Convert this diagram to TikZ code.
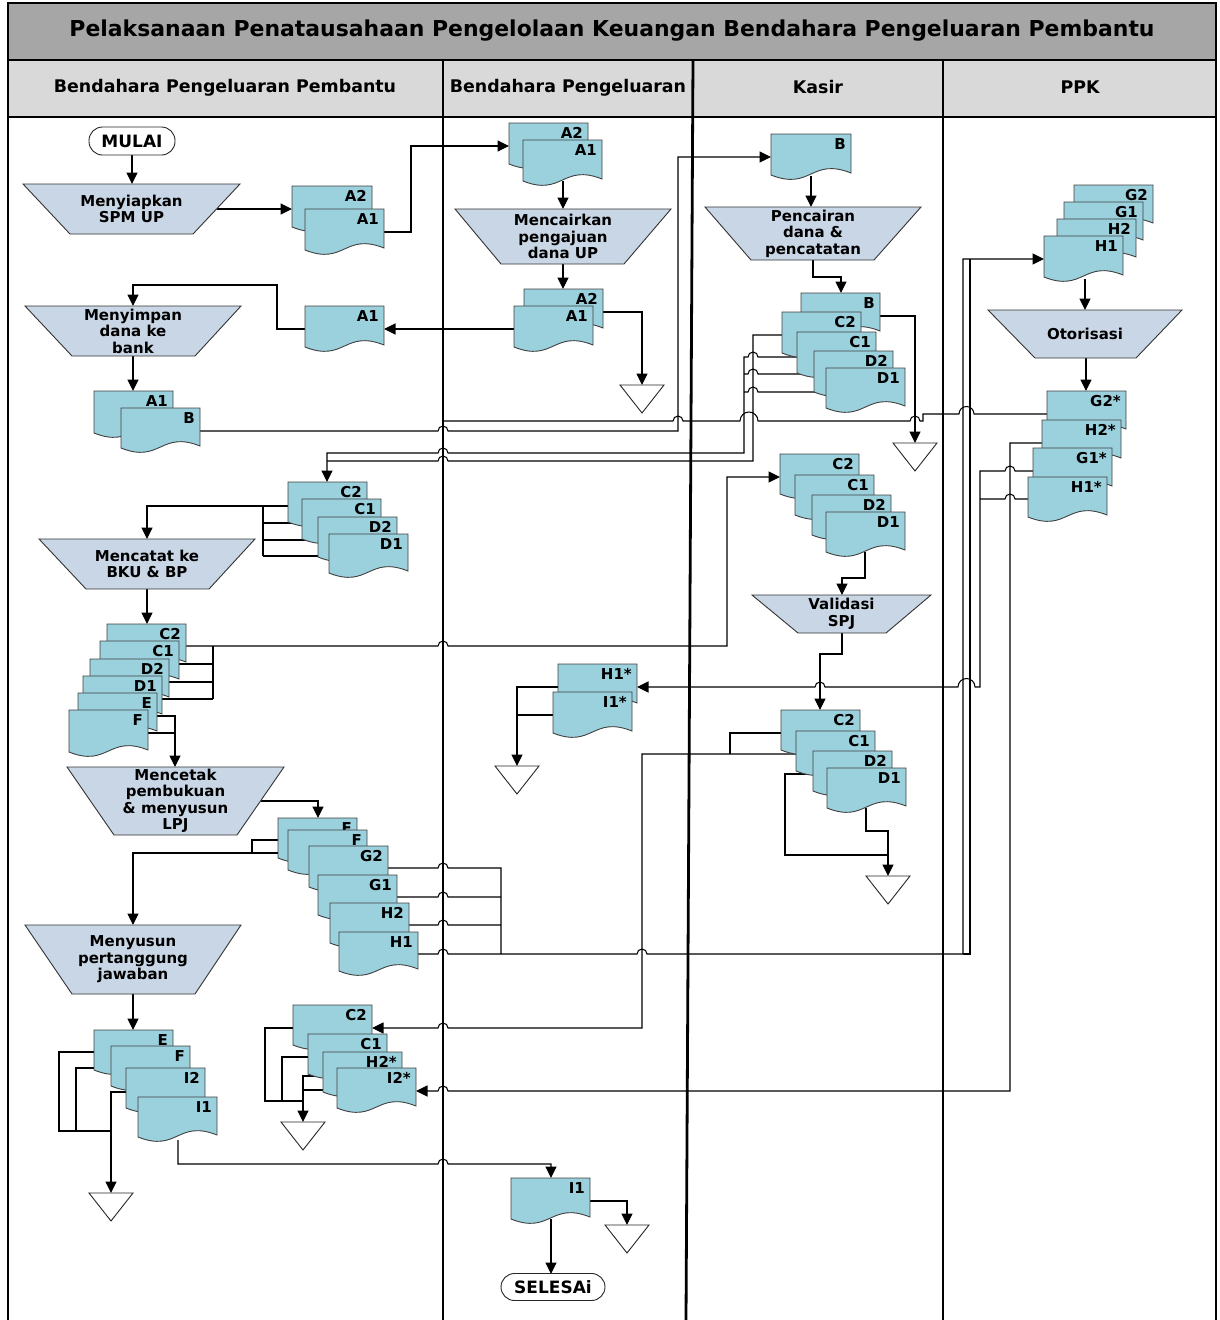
\documentclass[tikz,border=0pt]{standalone}
\usepackage{fontspec}
\usepackage{graphicx}
\setmainfont{DejaVu Sans}
\usetikzlibrary{arrows.meta}
\definecolor{docblue}{RGB}{155,208,221}
\definecolor{trapblue}{RGB}{201,214,229}
\definecolor{titlegray}{RGB}{166,166,166}
\definecolor{headgray}{RGB}{217,217,217}
\tikzset{
  cn/.style={draw=black, line width=1.05pt},
  ar/.style={cn, -{Triangle[length=11.5pt,width=11pt]}},
  docst/.style={fill=docblue, draw=black!75, line width=0.9pt},
  trapst/.style={fill=trapblue, draw=black!80, line width=0.9pt},
  txt/.style={font=\bfseries\fontsize{15}{16.5}\selectfont, align=center, inner sep=0pt},
  lbl/.style={font=\bfseries\fontsize{15}{15}\selectfont, inner sep=0pt, anchor=north east},
  term/.style={draw=black!85, fill=white, line width=0.9pt, rounded corners=13.5pt, font=\bfseries\fontsize{17}{17}\selectfont, inner sep=0pt},
  lane/.style={line width=2.8pt, black},
  offst/.style={fill=white, draw=black!85, line width=0.9pt},
  hdr/.style={font=\bfseries\fontsize{17.4}{17.4}\selectfont}
}
\newcommand{\docu}[6]{%
  \begin{scope}[shift={(#1,#2)}]
    \filldraw[docst] (0,0) -- (#3,0) -- (#3,{#4-2}) .. controls ({0.5*#3},{#4-2-0.2*#3}) and ({0.5*#3},{#4+0.2*#3}) .. (0,#4) -- cycle;
    \node[lbl] (#6) at ({#3-5},4) {#5};
  \end{scope}}
\newcommand{\trapz}[8]{%
  \filldraw[trapst] (#1,#3) -- (#2,#3) -- (#5,#6) -- (#4,#6) -- cycle;
  \node[txt] (#8) at ({(#1+#2)/2},{(#3+#6)/2}) {#7};}
\newcommand{\offp}[3]{%
  \filldraw[offst] ({#1-22},#2) -- ({#1+22},#2) -- (#1,{#2+28}) -- cycle;
  \coordinate (#3) at (#1,#2);}
\begin{document}
\begin{tikzpicture}[x=1pt,y=-1pt]
\useasboundingbox (0,0) rectangle (1220,1320);
% bands
\fill[titlegray] (8,3) rectangle (1216,60);
\fill[headgray] (8,60) rectangle (1216,117);
\node (title) at (612,31) {\resizebox{1085pt}{!}{\bfseries\fontsize{20}{20}\selectfont Pelaksanaan Penatausahaan Pengelolaan Keuangan Bendahara Pengeluaran Pembantu}};
\node[hdr] (h1) at (225,88) {Bendahara Pengeluaran Pembantu};
\node[hdr] (h2) at (568,88) {Bendahara Pengeluaran};
\node[hdr] (h3) at (818,87) {Kasir};
\node[hdr] (h4) at (1080,87) {PPK};
% frame and lanes
\draw[lane] (8,1320) -- (8,3) -- (1216,3) -- (1216,1320);
\draw[lane] (8,60) -- (1216,60);
\draw[lane] (8,117) -- (1216,117);
\draw[lane] (443,60) -- (443,1320);
\draw[lane] (693,60) -- (686,1320);
\draw[lane] (943,60) -- (943,1320);

% ---------------- connectors ----------------
\draw[ar] (132,155) -- (132,184);
\draw[ar] (216.5,209) -- (292,209);
\draw[ar] (384,232) -- (411,232) -- (411,146) -- (509,146);
\draw[ar] (563,181) -- (563,209);
\draw[ar] (563,264) -- (563,289);
\draw[ar] (603,312) -- (642,312) -- (642,385);
\draw[ar] (514,329) -- (384,329);
\draw[ar] (305,329) -- (277,329) -- (277,285) -- (133,285) -- (133,306);
\draw[ar] (133,356) -- (133,391);
\draw[ar] (200,431) -- (438,431) arc[start angle=180,end angle=360,radius=5] -- (678,431) -- (678,157) -- (771,157);
\draw[ar] (811,176) -- (811,207);
\draw[ar] (813,260) -- (813,277) -- (841,277) -- (841,293);
\draw[ar] (880,316) -- (915,316) -- (915,443);
% G2* line
\draw[cn] (1047,414) -- (974,414) arc[start angle=0,end angle=-180,radius=7.5] -- (923,414) -- (923,421) -- (920,421) arc[start angle=0,end angle=-180,radius=5] -- (758,421) arc[start angle=0,end angle=-180,radius=9] -- (683,421) arc[start angle=0,end angle=-180,radius=5] -- (443,421);
% Kasir C/D to lane 1
\draw[cn] (782,335) -- (753,335) -- (753,461) -- (448,461) arc[start angle=0,end angle=-180,radius=5] -- (327,461);
\draw[ar] (797,357) -- (758,357) arc[start angle=0,end angle=-180,radius=5] -- (744,357) -- (744,453) -- (448,453) arc[start angle=0,end angle=-180,radius=5] -- (327,453) -- (327,482);
\draw[cn] (814,374) -- (758,374) arc[start angle=0,end angle=-180,radius=5] -- (744,374);
\draw[cn] (826,392) -- (758,392) arc[start angle=0,end angle=-180,radius=5] -- (744,392);
% lane 1 C2 stack
\draw[ar] (288,506) -- (147,506) -- (147,539);
\draw[cn] (263,506) -- (263,556);
\draw[cn] (302,523) -- (263,523);
\draw[cn] (318,540) -- (263,540);
\draw[cn] (329,556) -- (263,556);
\draw[ar] (147,589) -- (147,624);
\draw[ar] (186,646) -- (438,646) arc[start angle=180,end angle=360,radius=5] -- (727,646) -- (727,477) -- (780,477);
\draw[cn] (213,646) -- (213,699);
\draw[cn] (179,664) -- (213,664);
\draw[cn] (169,682) -- (213,682);
\draw[cn] (162,699) -- (213,699);
\draw[ar] (157,716) -- (175,716) -- (175,767);
\draw[cn] (148,733) -- (175,733);
\draw[ar] (260.5,801) -- (318,801) -- (318,818);
\draw[cn] (278,840) -- (252,840) -- (252,853);
\draw[ar] (288,853) -- (133,853) -- (133,925);
\draw[cn] (388,868) -- (438,868) arc[start angle=180,end angle=360,radius=5] -- (501,868) -- (501,954);
\draw[cn] (397,897) -- (438,897) arc[start angle=180,end angle=360,radius=5] -- (501,897);
\draw[cn] (409,925) -- (438,925) arc[start angle=180,end angle=360,radius=5] -- (501,925);
\draw[ar] (418,954) -- (438,954) arc[start angle=180,end angle=360,radius=5] -- (637,954) arc[start angle=180,end angle=360,radius=5] -- (963,954) -- (963,259) -- (1044,259);
\draw[cn] (963,954) -- (970,954) -- (970,259);
\draw[ar] (133,994) -- (133,1030);
\draw[cn] (94,1052) -- (59,1052) -- (59,1131) -- (111,1131);
\draw[cn] (111,1068) -- (76,1068) -- (76,1131);
\draw[ar] (126,1092) -- (111,1092) -- (111,1193);
\draw[ar] (178,1140) -- (178,1164) -- (438,1164) arc[start angle=180,end angle=360,radius=5] -- (551,1164) -- (551,1178);
\draw[cn] (293,1028) -- (265,1028) -- (265,1101) -- (303,1101);
\draw[cn] (308,1057) -- (282,1057) -- (282,1101);
\draw[ar] (323,1076) -- (303,1076) -- (303,1122);
\draw[cn] (337,1090) -- (303,1090);
% Kasir bottom to lane 1
\draw[cn] (781,733) -- (730,733) -- (730,754);
\draw[ar] (796,754) -- (642,754) -- (642,1028) -- (448,1028) arc[start angle=0,end angle=-180,radius=5] -- (372,1028);
% PPK starred docs
\draw[ar] (1042,443) -- (1010,443) -- (1010,1091) -- (448,1091) arc[start angle=0,end angle=-180,radius=5] -- (416,1091);
\draw[ar] (1033,471) -- (1015,471) arc[start angle=0,end angle=-180,radius=5] -- (980,471) -- (980,687) -- (975,687) arc[start angle=0,end angle=-180,radius=8.5] -- (825,687) arc[start angle=0,end angle=-180,radius=5] -- (637,687);
\draw[cn] (1028,499) -- (1015,499) arc[start angle=0,end angle=-180,radius=5] -- (980,499);
% Kasir middle
\draw[ar] (865,552) -- (865,578) -- (842,578) -- (842,595);
\draw[ar] (842,633) -- (842,654) -- (820,654) -- (820,710);
\draw[cn] (813,774) -- (785,774) -- (785,855) -- (888,855);
\draw[ar] (866,808) -- (866,831) -- (888,831) -- (888,876);
% PPK
\draw[ar] (1085,279) -- (1085,310);
\draw[ar] (1086,358) -- (1086,391);
% lane 2 lower
\draw[ar] (558,687) -- (517,687) -- (517,766);
\draw[cn] (553,715) -- (517,715);
\draw[ar] (590,1201) -- (627,1201) -- (627,1225);
\draw[ar] (551,1219) -- (551,1274);

% ---------------- terminals ----------------
\node[term, minimum width=86pt, minimum height=28pt] (mulai) at (132,141) {MULAI};
\node[term, minimum width=104pt, minimum height=27pt] (selesai) at (553,1287) {SELESAi};

% ---------------- trapezoids ----------------
\trapz{23}{240}{184}{70}{193}{234}{Menyiapkan\\SPM UP}{t1}
\trapz{455}{671}{209}{501}{624}{264}{Mencairkan\\pengajuan\\dana UP}{t2}
\trapz{25}{241}{306}{72}{195}{356}{Menyimpan\\dana ke\\bank}{t3}
\trapz{705}{921}{207}{751}{874}{260}{Pencairan\\dana \&\\pencatatan}{t4}
\trapz{39}{255}{539}{86}{209}{589}{Mencatat ke\\BKU \& BP}{t5}
\trapz{67}{284}{767}{114}{237}{835}{Mencetak\\pembukuan\\\& menyusun\\LPJ}{t6}
\trapz{25}{241}{925}{72}{195}{994}{Menyusun\\pertanggung\\jawaban}{t7}
\trapz{752}{931}{595}{798}{886}{633}{Validasi\\SPJ}{t8}
\trapz{988}{1182}{310}{1035}{1136}{358}{Otorisasi}{t9}

% ---------------- off-page triangles ----------------
\offp{642}{385}{o1}
\offp{915}{443}{o2}
\offp{517}{766}{o3}
\offp{888}{876}{o4}
\offp{111}{1193}{o5}
\offp{303}{1122}{o6}
\offp{627}{1225}{o7}

% ---------------- documents ----------------
% lane 1
\docu{292}{186}{80}{41}{A2}{dA2a}
\docu{305}{209}{79}{41}{A1}{dA1a}
\docu{305}{306}{79}{41}{A1}{dA1c}
\docu{94}{391}{79}{42}{A1}{dA1d}
\docu{121}{408}{79}{40}{B}{dBa}
\docu{288}{482}{79}{40}{C2}{lC2a}
\docu{302}{499}{79}{40}{C1}{lC1a}
\docu{318}{517}{79}{40}{D2}{lD2a}
\docu{329}{534}{79}{39}{D1}{lD1a}
\docu{107}{624}{79}{40}{C2}{lC2b}
\docu{100}{641}{79}{40}{C1}{lC1b}
\docu{90}{659}{79}{40}{D2}{lD2b}
\docu{83}{676}{79}{40}{D1}{lD1b}
\docu{78}{693}{79}{40}{E}{lEb}
\docu{69}{710}{79}{42}{F}{lFb}
\docu{278}{818}{79}{40}{E}{lEc}
\docu{288}{830}{79}{40}{F}{lFc}
\docu{309}{846}{79}{41}{G2}{lG2}
\docu{318}{875}{79}{40}{G1}{lG1}
\docu{330}{903}{79}{40}{H2}{lH2}
\docu{339}{932}{79}{39}{H1}{lH1}
\docu{94}{1030}{79}{40}{E}{lEd}
\docu{111}{1046}{79}{40}{F}{lFd}
\docu{126}{1068}{79}{40}{I2}{lI2}
\docu{138}{1097}{79}{40}{I1}{lI1}
\docu{293}{1005}{79}{40}{C2}{lC2e}
\docu{308}{1034}{79}{40}{C1}{lC1e}
\docu{323}{1052}{79}{40}{H2*}{lH2s}
\docu{337}{1068}{79}{40}{I2*}{lI2s}
% lane 2
\docu{509}{123}{79}{41}{A2}{mA2a}
\docu{523}{140}{79}{41}{A1}{mA1a}
\docu{524}{289}{79}{41}{A2}{mA2b}
\docu{514}{306}{79}{41}{A1}{mA1b}
\docu{558}{664}{79}{41}{H1*}{mH1s}
\docu{553}{692}{79}{41}{I1*}{mI1s}
\docu{511}{1178}{79}{41}{I1}{mI1}
% lane 3
\docu{771}{134}{80}{41}{B}{kBa}
\docu{801}{293}{79}{40}{B}{kBb}
\docu{782}{312}{79}{41}{C2}{kC2a}
\docu{797}{332}{79}{41}{C1}{kC1a}
\docu{814}{351}{79}{41}{D2}{kD2a}
\docu{826}{368}{79}{40}{D1}{kD1a}
\docu{780}{454}{79}{40}{C2}{kC2b}
\docu{795}{475}{79}{40}{C1}{kC1b}
\docu{812}{495}{79}{40}{D2}{kD2b}
\docu{826}{512}{79}{40}{D1}{kD1b}
\docu{781}{710}{79}{40}{C2}{kC2c}
\docu{796}{731}{79}{40}{C1}{kC1c}
\docu{813}{751}{79}{40}{D2}{kD2c}
\docu{827}{768}{79}{40}{D1}{kD1c}
% lane 4
\docu{1074}{185}{79}{40}{G2}{pG2}
\docu{1064}{202}{79}{40}{G1}{pG1}
\docu{1057}{219}{79}{40}{H2}{pH2}
\docu{1044}{236}{79}{41}{H1}{pH1}
\docu{1047}{391}{79}{40}{G2*}{pG2s}
\docu{1042}{420}{79}{40}{H2*}{pH2s}
\docu{1033}{448}{79}{40}{G1*}{pG1s}
\docu{1028}{477}{79}{40}{H1*}{pH1s}
\end{tikzpicture}
\end{document}
